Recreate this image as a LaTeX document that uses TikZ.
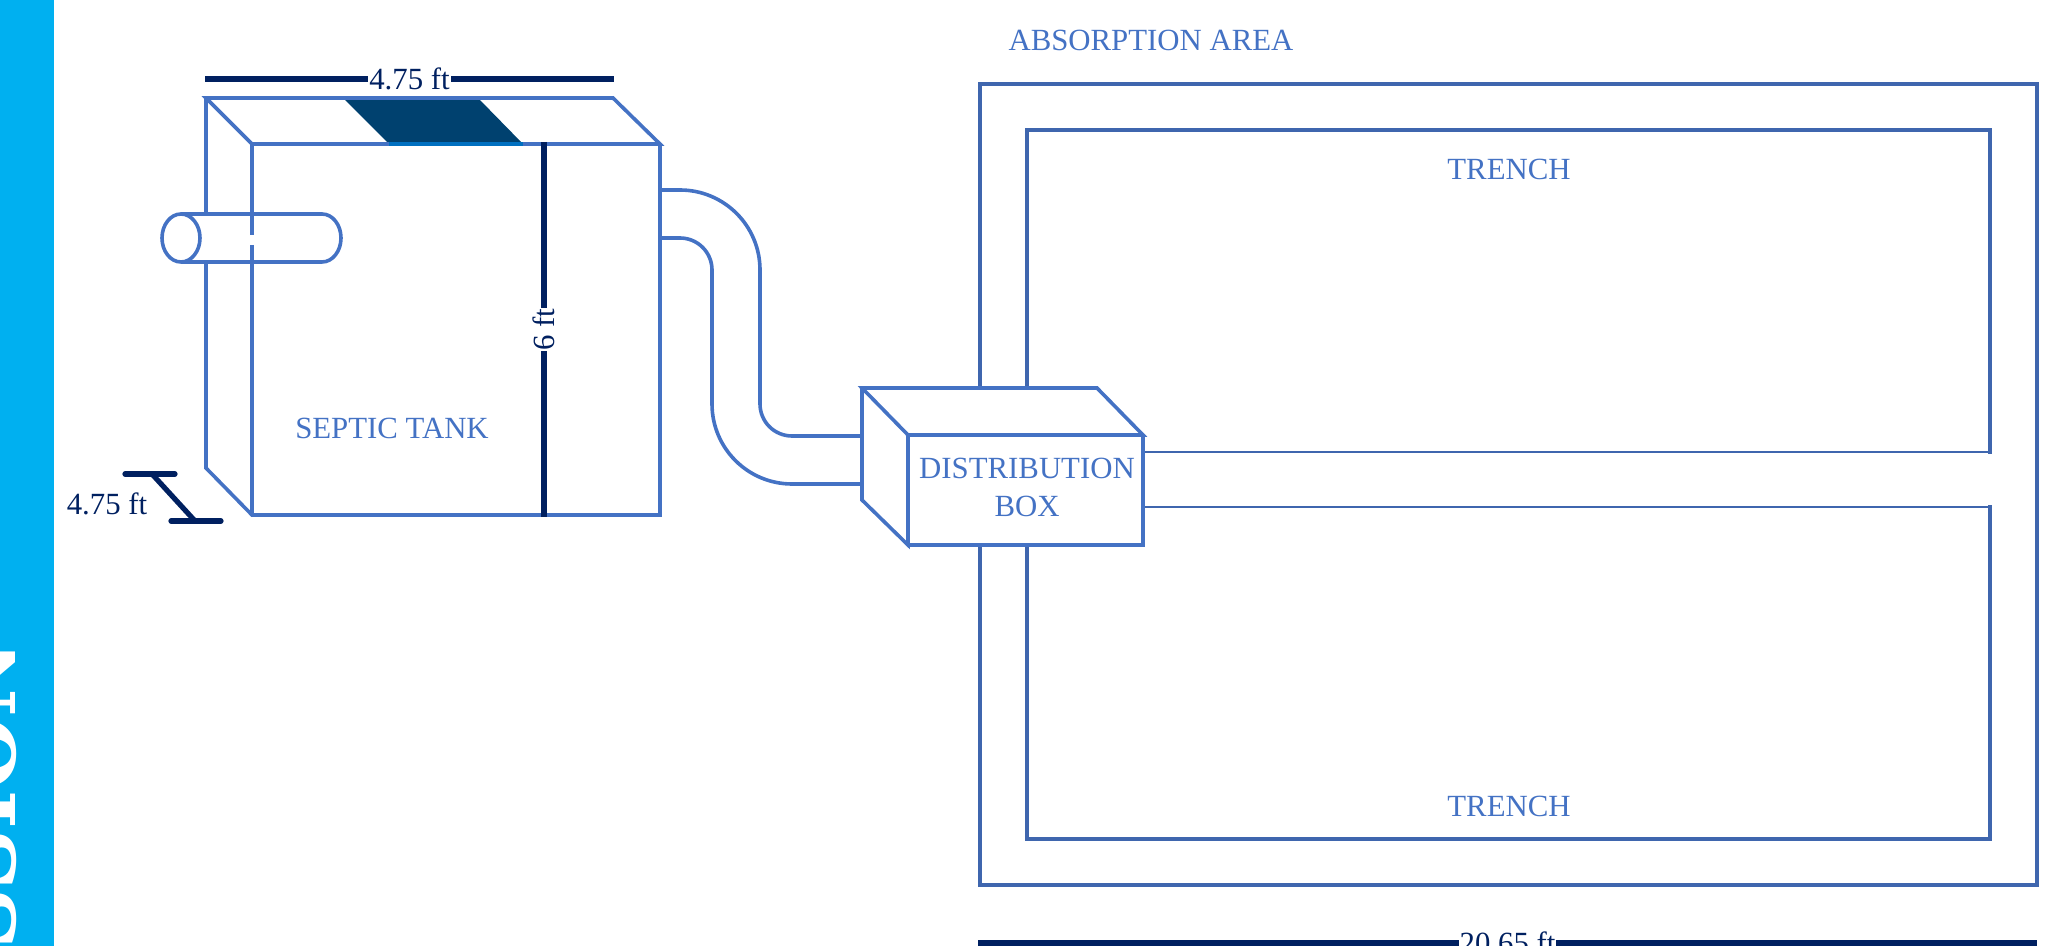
\documentclass[tikz,border=0pt]{standalone}
\usepackage{fontspec}
\setmainfont{Liberation Serif}
\newfontfamily\sidefont{DejaVu Serif}
\definecolor{linkblue}{HTML}{4472C4}
\definecolor{areablue}{HTML}{3F66AE}
\definecolor{dimnavy}{HTML}{002060}
\definecolor{hatchblue}{HTML}{00416F}
\definecolor{edgeblue}{HTML}{0070C0}
\definecolor{barblue}{HTML}{00B0F0}
\begin{document}
\begin{tikzpicture}[x=.5pt, y=.5pt,
    tankline/.style={draw=linkblue, line width=1.8pt},
    arealine/.style={draw=areablue, line width=1.6pt, line cap=rect},
    trenchline/.style={draw=areablue, line width=1.4pt},
    dimline/.style={draw=dimnavy, line width=2.6pt},
    tanklabel/.style={text=linkblue, font=\fontsize{15.4}{19}\selectfont, align=center},
    dimlabel/.style={text=dimnavy, font=\fontsize{15.4}{19}\selectfont, fill=white, inner sep=.5pt}]
  \useasboundingbox (0,0) rectangle (2059,-946);
  \clip (0,0) rectangle (2059,-946);

  % side bar
  \fill[barblue] (0,0) rectangle (54,-946);
  \node(sidetext)[rotate=90, anchor=base east, inner sep=0pt, text=white,
    font=\sidefont\fontsize{42}{42}\selectfont\bfseries] at (16,-640) {SSION};

  % septic tank
  \coordinate (backTL) at (206,-98);
  \coordinate (backTR) at (613,-98);
  \coordinate (backBL) at (206,-468);
  \coordinate (frontTL) at (252,-144);
  \coordinate (frontTR) at (660,-144);
  \coordinate (frontBL) at (252,-515);
  \coordinate (frontBR) at (660,-515);
  \coordinate (pipeTopB) at (206,-214);
  \coordinate (pipeBotB) at (206,-262);
  \coordinate (gapTop) at (252,-235);
  \coordinate (gapBot) at (252,-245);

  \fill[hatchblue] (343,-98) -- (478,-98) -- (523,-144) -- (389,-144) -- cycle;
  \draw[tankline] (backTL) -- (backTR) -- (frontTR) -- (frontTL) -- cycle;
  \draw[draw=edgeblue, line width=1.8pt] (389,-144) -- (523,-144);
  \draw[tankline] (backTL) -- (pipeTopB);
  \draw[tankline] (pipeBotB) -- (backBL) -- (frontBL) -- (frontBR) -- (frontTR);
  \draw[tankline] (frontTL) -- (gapTop);
  \draw[tankline] (gapBot) -- (frontBL);

  % inlet pipe
  \draw[tankline] (181,-238) ellipse [x radius=19, y radius=24];
  \draw[tankline] (181,-214) -- (322,-214)
    arc [start angle=90, end angle=-90, x radius=19, y radius=24] -- (181,-262);

  % absorption area
  \coordinate (outerTL) at (980,-84);
  \coordinate (outerTR) at (2037,-84);
  \coordinate (outerBL) at (980,-885);
  \coordinate (outerBR) at (2037,-885);
  \draw[arealine] (980,-386) -- (outerTL) -- (outerTR) -- (outerBR) -- (outerBL) -- (980,-547);
  % upper trench
  \draw[arealine] (1027,-386) -- (1027,-130) -- (1990,-130) -- (1990,-452);
  \draw[trenchline] (1990,-452) -- (1143,-452);
  % lower trench
  \draw[trenchline] (1143,-507) -- (1990,-507);
  \draw[arealine] (1990,-507) -- (1990,-839) -- (1027,-839) -- (1027,-547);

  % distribution box
  \coordinate (boxbackTL) at (862,-388);
  \coordinate (boxbackTR) at (1097,-388);
  \coordinate (boxbackBL) at (862,-500);
  \coordinate (boxTL) at (908,-435);
  \coordinate (boxTR) at (1143,-435);
  \coordinate (boxBL) at (908,-545);
  \coordinate (boxBR) at (1143,-545);
  \draw[tankline] (boxbackTL) -- (boxbackTR) -- (boxTR) -- (boxTL) -- cycle;
  \draw[tankline] (boxbackTL) -- (boxbackBL) -- (boxBL) -- (boxTL);
  \draw[tankline] (boxTR) -- (boxBR) -- (boxBL);

  % pipe from tank to box
  \draw[tankline] (660,-190) -- (680,-190) arc [start angle=90, end angle=0, radius=80]
    -- (760,-404) arc [start angle=180, end angle=270, radius=32] -- (862,-436);
  \draw[tankline] (660,-238) -- (680,-238) arc [start angle=90, end angle=0, radius=32]
    -- (712,-404) arc [start angle=180, end angle=270, radius=80] -- (862,-484);

  % labels
  \node(arealabel)[tanklabel] at (1151,-40.5) {ABSORPTION AREA};
  \node(trenchA)[tanklabel] at (1509,-169.5) {TRENCH};
  \node(trenchB)[tanklabel] at (1509,-806.5) {TRENCH};
  \node(tanklabel)[tanklabel] at (392,-428.5) {SEPTIC TANK};
  \node(boxlabel)[tanklabel] at (1027,-487) {DISTRIBUTION\\BOX};

  % dimensions
  \coordinate (topdimL) at (205,-79);
  \coordinate (topdimR) at (614,-79);
  \coordinate (hdimT) at (544,-142);
  \coordinate (hdimB) at (544,-517);
  \coordinate (areadimL) at (978,-943);
  \coordinate (areadimR) at (2037,-943);
  \draw[dimline] (topdimL) -- node[dimlabel] {4.75 ft} (topdimR);
  \draw[dimline] (hdimT) -- node[dimlabel, rotate=90] {6 ft} (hdimB);
  \draw[dimline] (areadimL) -- node[dimlabel] {20.65 ft} (areadimR);

  \coordinate (depthT) at (152,-474);
  \coordinate (depthB) at (195,-521);
  \draw[dimline, line cap=round] (125,-474) -- (175,-474);
  \draw[dimline, line cap=round] (171,-521) -- (221,-521);
  \draw[dimline, line cap=round] (depthT) -- (depthB);
  \node(depthlabel)[text=dimnavy, font=\fontsize{15.4}{19}\selectfont] at (107,-504) {4.75 ft};
\end{tikzpicture}
\end{document}
